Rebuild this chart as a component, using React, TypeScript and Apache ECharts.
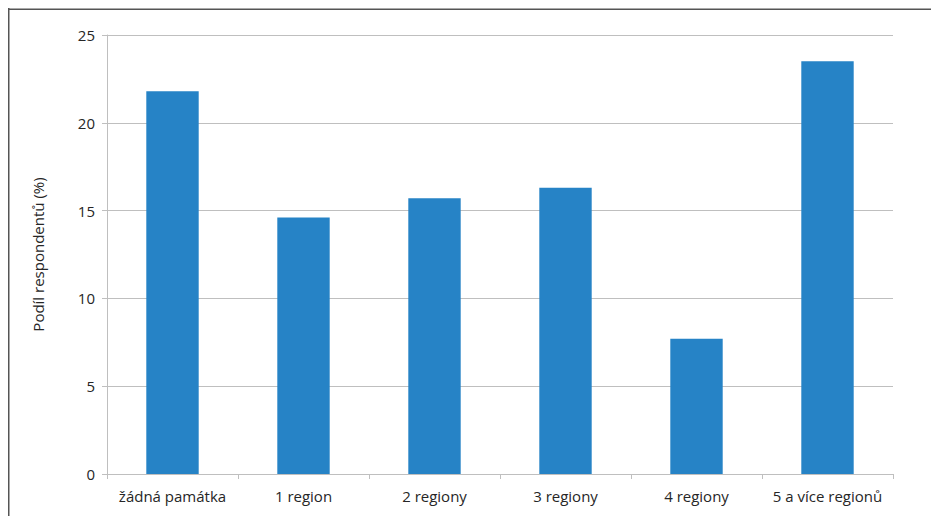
import React, { useEffect, useRef } from "react";
import * as echarts from "echarts";

const categories = ["žádná památka", "1 region", "2 regiony", "3 regiony", "4 regiony", "5 a více regionů"];
const values = [21.8, 14.6, 15.7, 16.3, 7.7, 23.5];
const yAxisName = "Podíl respondentů (%)";

export default function App() {
  const ref = useRef<HTMLDivElement>(null);
  useEffect(() => {
    if (!ref.current) return;
    const chart = echarts.init(ref.current, null, { renderer: "svg" });
    const font = "'Open Sans', sans-serif";
    chart.setOption({
      animation: false,
      graphic: [
        { type: "line", shape: { x1: 0.75, y1: 0, x2: 0.75, y2: 520 }, style: { stroke: "#555", lineWidth: 1.5 } },
        { type: "line", shape: { x1: 0, y1: 1.25, x2: 940, y2: 1.25 }, style: { stroke: "#555", lineWidth: 1.5 } },
      ],
      grid: { left: 99, right: 46, top: 27, bottom: 42 },
      xAxis: {
        type: "category",
        data: categories,
        axisLine: { lineStyle: { color: "#BFBFBF", width: 1 } },
        axisTick: { show: true, length: 5, interval: 0, lineStyle: { color: "#BFBFBF" }, alignWithLabel: false },
        axisLabel: { color: "#262626", fontSize: 15, fontFamily: font, margin: 14, interval: 0 },
      },
      yAxis: {
        type: "value",
        min: 0,
        max: 25,
        interval: 5,
        name: yAxisName,
        nameLocation: "middle",
        nameGap: 62,
        nameTextStyle: { color: "#262626", fontSize: 15, fontFamily: font },
        axisLine: { show: true, lineStyle: { color: "#BFBFBF", width: 1 } },
        axisTick: { show: true, length: 5, lineStyle: { color: "#BFBFBF" } },
        axisLabel: { color: "#262626", fontSize: 15, fontFamily: font, margin: 12 },
        splitLine: { lineStyle: { color: "#BFBFBF", width: 1 } },
      },
      series: [
        {
          type: "bar",
          data: values,
          barWidth: "40%",
          itemStyle: { color: "#2683C6" },
        },
      ],
    });
    return () => chart.dispose();
  }, []);
  return <div ref={ref} style={{ width: 931, height: 508 }} />;
}
